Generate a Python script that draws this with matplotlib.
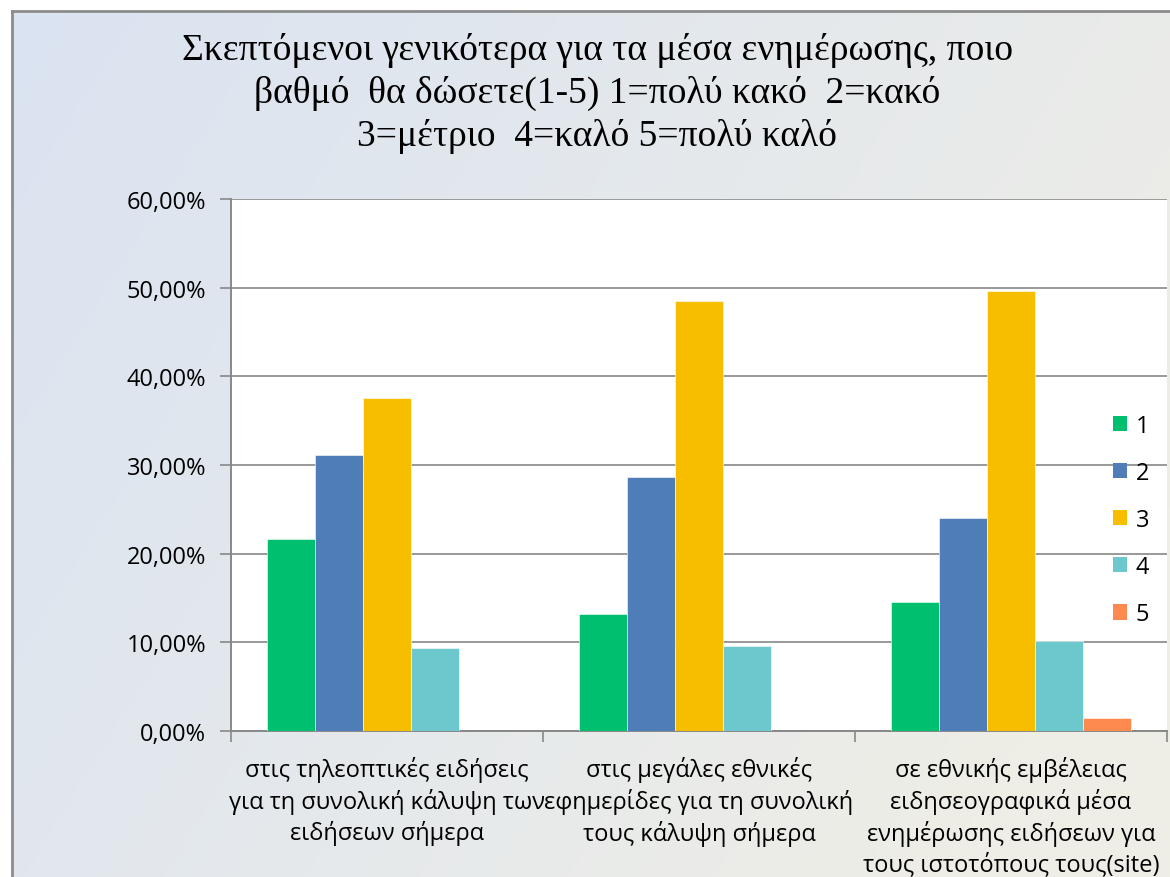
import numpy as np
import matplotlib
matplotlib.use("Agg")
import matplotlib.pyplot as plt
from matplotlib.lines import Line2D
from matplotlib.patches import Patch

# data (percent)
categories = [
    "στις τηλεοπτικές ειδήσεις\nγια τη συνολική κάλυψη των\nειδήσεων σήμερα",
    "στις μεγάλες εθνικές\nεφημερίδες για τη συνολική\nτους κάλυψη σήμερα",
    "σε εθνικής εμβέλειας\nειδησεογραφικά μέσα\nενημέρωσης ειδήσεων για\nτους ιστοτόπους τους(site)",
]
series_names = ["1", "2", "3", "4", "5"]
score_1 = [21.6, 13.2, 14.5]
score_2 = [31.1, 28.6, 24.0]
score_3 = [37.6, 48.5, 49.6]
score_4 = [9.4, 9.6, 10.2]
score_5 = [0.0, 0.0, 1.5]
y_ticks = [0, 10, 20, 30, 40, 50, 60]

title = ("Σκεπτόμενοι γενικότερα για τα μέσα ενημέρωσης, ποιο\n"
         "βαθμό  θα δώσετε(1-5) 1=πολύ κακό  2=κακό\n"
         "3=μέτριο  4=καλό 5=πολύ καλό")

colors = ["#00BF6F", "#4F7DB8", "#F7BE00", "#6CC8CD", "#FF8A50"]
grey = "#888888"
label_font = "Open Sans"

W, H = 1170, 878
fig = plt.figure(figsize=(W / 100, H / 100), dpi=100)

# background gradient behind the chart
bg = fig.add_axes([0, 0, 1, 1], zorder=-10)
xx, yy = np.meshgrid(np.linspace(0, 1, 200), np.linspace(0, 1, 200))
t = np.clip(0.75 * xx + 0.35 * yy, 0, 1)[..., None]
c0 = np.array([0xDA, 0xE3, 0xF2]) / 255
c1 = np.array([0xEF, 0xEE, 0xE6]) / 255
img = c0 * (1 - t) + c1 * t
bg.imshow(img, extent=[0, 1, 0, 1], aspect="auto", origin="upper")
bg.set_xlim(0, 1)
bg.set_ylim(0, 1)
bg.axis("off")
# white strip above and left of the chart frame
bx, by = 12 / W, 1 - 12 / H
bg.fill_between([0, 1], by, 1, color="white", zorder=2)
bg.fill_between([0, bx], 0, 1, color="white", zorder=2)
bg.add_line(Line2D([bx, bx], [0, by], color="#8C8C8C", lw=2, zorder=3))
bg.add_line(Line2D([bx, 1], [by, by], color="#8C8C8C", lw=2, zorder=3))

fig.text(597 / W, 1 - 33 / H, title, ha="center", va="top",
         family="Liberation Serif", fontsize=27, linespacing=1.3)

left, right, top, bottom = 231, 1167, 200, 732
ax = fig.add_axes([left / W, 1 - bottom / H, (right - left) / W, (bottom - top) / H])
ax.set_facecolor("white")

series = [score_1, score_2, score_3, score_4, score_5]
x = np.arange(len(categories))
bw = 0.77 / len(series)
for i, (name, vals) in enumerate(zip(series_names, series)):
    ax.bar(x + (i - 2) * bw, vals, bw, color=colors[i], edgecolor="white",
           linewidth=0.4, zorder=3, label=name)

ax.set_xlim(-0.5, len(categories) - 0.5)
ax.set_ylim(0, 60)
ax.set_yticks(y_ticks)
ax.set_yticklabels([f"{v:.2f}%".replace(".", ",") for v in y_ticks],
                   family=label_font, fontsize=17)
ax.yaxis.grid(True, color=grey, lw=1.2, zorder=0)
ax.set_axisbelow(True)
ax.tick_params(axis="y", length=8, width=1.2, color=grey, pad=10)

ax.set_xticks(x)
ax.set_xticklabels(categories, family=label_font, fontsize=17, linespacing=1.3)
ax.set_xticks(np.arange(-0.5, len(categories)), minor=True)
ax.tick_params(axis="x", which="major", length=0, pad=18)
ax.tick_params(axis="x", which="minor", length=8, width=1.2, color=grey)

for s in ["top", "right"]:
    ax.spines[s].set_visible(False)
for s in ["left", "bottom"]:
    ax.spines[s].set_color(grey)
    ax.spines[s].set_linewidth(1.4)

handles = [Patch(facecolor=c, edgecolor="none") for c in colors]
leg = ax.legend(handles, series_names, loc="center left",
                bbox_to_anchor=((1101 - left) / (right - left), (732 - 521) / (bottom - top)),
                frameon=False, prop={"family": label_font, "size": 17},
                handlelength=0.62, handleheight=0.62, handletextpad=0.35,
                labelspacing=0.98, borderpad=0)

fig.savefig("out.png", dpi=100)
